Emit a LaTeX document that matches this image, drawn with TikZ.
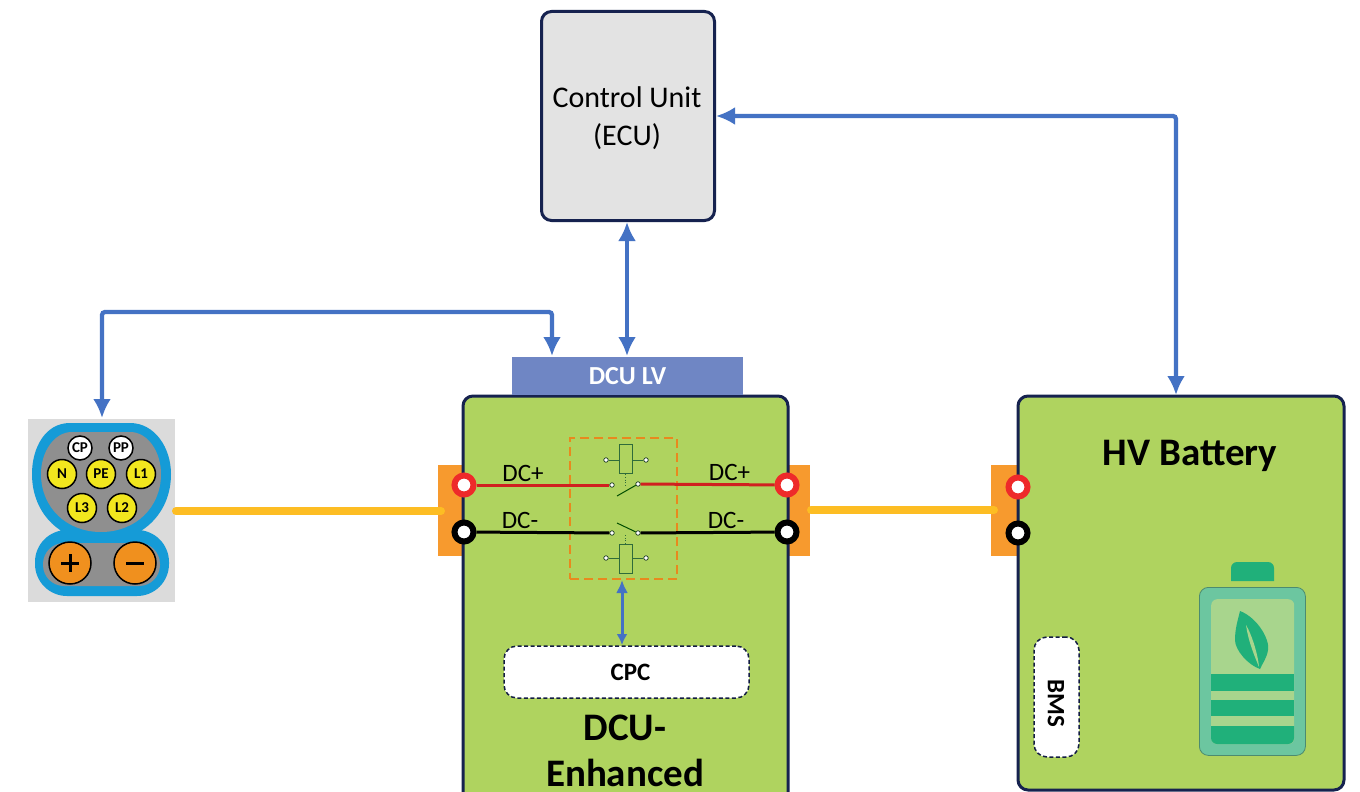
\documentclass[tikz,border=0pt]{standalone}
\usepackage{fontspec}
\setmainfont{Carlito}
\usetikzlibrary{arrows.meta,positioning}
\definecolor{navy}{HTML}{16224F}
\definecolor{boxgreen}{HTML}{AFD35F}
\definecolor{linkblue}{HTML}{4472C4}
\definecolor{lvblue}{HTML}{6F86C4}
\definecolor{termorange}{HTML}{F79A2E}
\definecolor{feedyellow}{HTML}{FDBD23}
\definecolor{dashorange}{HTML}{E8891E}
\definecolor{portblue}{HTML}{159BD7}
\definecolor{portgrey}{HTML}{8F8F8F}
\definecolor{pinyellow}{HTML}{F2E71E}
\definecolor{pinorange}{HTML}{F0901E}
\definecolor{batdark}{HTML}{20B07A}
\definecolor{batmid}{HTML}{6CC6A0}
\definecolor{batlight}{HTML}{A8D58D}
\definecolor{relaygreen}{HTML}{2F6B3A}
\definecolor{livered}{HTML}{D02020}
\definecolor{ringredc}{HTML}{EE2A2A}
\newcommand{\fs}[1]{\fontsize{#1}{#1}\selectfont}
\tikzset{
  x=1pt,y=-1pt,
  mainbox/.style={draw=navy,line width=3pt,rounded corners=10pt,fill=boxgreen,inner sep=0pt,outer sep=0pt,anchor=north west},
  link/.style={draw=linkblue,line width=4.3pt,{Latex[length=19pt,width=18pt]}-{Latex[length=19pt,width=18pt]}},
  feed/.style={draw=feedyellow,line width=8pt,line cap=round},
  termblock/.style={fill=termorange,inner sep=0pt,minimum width=#1,minimum height=91pt,anchor=north west},
  ringred/.style={circle,draw=ringredc,fill=white,line width=6pt,minimum size=19pt,inner sep=0pt},
  ringblack/.style={circle,draw=black,fill=white,line width=6pt,minimum size=19pt,inner sep=0pt},
  pin/.style={circle,draw=black,line width=1.5pt,fill=pinyellow,minimum size=29pt,inner sep=0pt,font=\bfseries\fs{15}},
  pinw/.style={circle,draw=black,line width=1.5pt,fill=white,minimum size=24pt,inner sep=0pt,font=\bfseries\fs{15}},
  pinbig/.style={circle,draw=black,line width=1.5pt,fill=pinorange,minimum size=42pt,inner sep=0pt},
  contact/.style={circle,draw=relaygreen!50!black,fill=white,line width=.7pt,minimum size=4.5pt,inner sep=0pt},
  relay/.style={draw=relaygreen,line width=1pt,fill=boxgreen,minimum width=13pt,minimum height=29pt,inner sep=0pt},
  dashbox/.style={draw=navy!85!black,line width=1.5pt,dash pattern=on 4pt off 2.5pt,fill=white,rounded corners=13pt,inner sep=0pt,outer sep=0pt,anchor=north west},
  dclabel/.style={font=\fs{25},inner sep=0pt},
}
\begin{document}
\begin{tikzpicture}
\useasboundingbox (0,0) rectangle (1360,792);
\fill[white] (0,0) rectangle (1360,792);

% terminal blocks (behind boxes)
\node[termblock=28pt] (tl) at (438,465) {};
\node[termblock=25pt] (tr) at (785,465) {};
\node[termblock=30pt] (th) at (991,465) {};

% main boxes
\node[mainbox,fill=black!11,minimum width=173pt,minimum height=209pt] (ecu) at (541.5,11.5) {};
\node[inner sep=0pt,align=center,font=\fs{30}] (ecutext) at (627,118) {Control Unit\\[8pt](ECU)};
\node[mainbox,minimum width=325pt,minimum height=420pt] (dcu) at (463,396) {};
\node[mainbox,minimum width=326pt,minimum height=394pt] (hv) at (1018,396) {};
\node[fill=lvblue,text=white,font=\bfseries\fs{26},minimum width=231pt,minimum height=38pt,inner sep=0pt,outer sep=0pt,anchor=north west] (lv) at (512,357) {DCU LV};

% connector
\node[fill=black!14,minimum width=147pt,minimum height=183pt,inner sep=0pt,outer sep=0pt,anchor=north west] (port) at (28,419) {};
\fill[portblue,rounded corners=32pt] (35,530) rectangle (169,596);
\fill[portblue] (70,423) -- (130,423) .. controls (155,423) and (171,448) .. (171,474) .. controls (171,515) and (140,542) .. (101,542) .. controls (62,542) and (32,515) .. (32,474) .. controls (32,448) and (45,423) .. (70,423) -- cycle;
\fill[portgrey,rounded corners=21pt] (43,543) rectangle (160,586);
\fill[portblue] (60,530) .. controls (75,540) and (125,540) .. (142,530) -- (135,542) -- (68,542) -- cycle;
\fill[portgrey] (72,432) -- (130,432) .. controls (148,432) and (161,452) .. (161,474) .. controls (161,508) and (135,532) .. (101,532) .. controls (67,532) and (41,508) .. (41,474) .. controls (41,452) and (54,432) .. (72,432) -- cycle;
\node[pinw] (cp) at (80,448) {CP};
\node[pinw] (pp) at (121,448) {PP};
\node[pin] (pn) at (62,474) {N};
\node[pin] (pe) at (101,474) {PE};
\node[pin] (l1) at (141,474) {L1};
\node[pin] (l3) at (82,508) {L3};
\node[pin] (l2) at (122,508) {L2};
\node[pinbig] (plus) at (70,563) {};
\node[pinbig] (minus) at (135,563) {};
\draw[line width=3pt] (plus.center) +(-9,0) -- +(9,0) (plus.center) +(0,-9) -- +(0,9);
\draw[line width=3pt] (minus.center) +(-9,0) -- +(9,0);

% HV feed lines
\coordinate (feedA) at (176,511);
\coordinate (feedB) at (441,511);
\coordinate (feedC) at (811,510);
\coordinate (feedD) at (994,510);
\draw[feed] (feedA) -- (feedB);
\draw[feed] (feedC) -- (feedD);

% terminals
\node[ringred] (a1) at (464,485) {};
\node[ringblack] (a2) at (464,532) {};
\node[ringred] (b1) at (787,485) {};
\node[ringblack] (b2) at (787,532) {};
\node[ringred] (h1) at (1018,487) {};
\node[ringblack] (h2) at (1018,533) {};

% contactor group
\node[draw=dashorange,line width=2pt,dash pattern=on 9pt off 5pt,minimum width=107pt,minimum height=141pt,inner sep=0pt,outer sep=0pt,anchor=north west] (grp) at (570,438) {};
\node[contact] (c1) at (612,485) {};
\node[contact] (c2) at (638,484) {};
\node[contact] (c3) at (612,533) {};
\node[contact] (c4) at (638,533) {};
\draw[livered,line width=3pt] (a1) -- (c1);
\draw[livered,line width=3pt] (c2) -- (b1);
\draw[black,line width=3pt] (a2) -- (c3);
\draw[black,line width=3pt] (c4) -- (b2);
\draw[black!70!green,line width=1pt] (c2) -- (617,496);
\draw[black!70!green,line width=1pt] (c4) -- (617,523);
\node[relay] (r1) at (625.5,459) {};
\node[relay] (r2) at (625.5,559) {};
\node[contact] (k1) at (606,460) {};
\node[contact] (k2) at (646,460) {};
\node[contact] (k3) at (606,558) {};
\node[contact] (k4) at (646,558) {};
\draw[relaygreen,line width=.8pt] (k1) -- (r1.west |- k1);
\draw[relaygreen,line width=.8pt] (r1.east |- k2) -- (k2);
\draw[relaygreen,line width=.8pt] (k3) -- (r2.west |- k3);
\draw[relaygreen,line width=.8pt] (r2.east |- k4) -- (k4);
\draw[relaygreen,line width=.8pt,dotted] (r1.south) -- ++(0,12);
\draw[relaygreen,line width=.8pt,dotted] (r2.north) -- ++(0,-11);

\node[dclabel] (l_a1) at (523,473) {DC+};
\node[dclabel] (l_a2) at (520,520) {DC-};
\node[dclabel] (l_b1) at (729.5,472) {DC+};
\node[dclabel] (l_b2) at (726,520) {DC-};

% CPC and text
\node[dashbox,minimum width=245pt,minimum height=52pt] (cpc) at (504,646) {};
\node[inner sep=0pt,font=\bfseries\fs{25}] (cpctext) at (630.5,672) {CPC};
\draw[draw=linkblue,line width=3pt,{Latex[length=13pt,width=12pt]}-{Latex[length=11pt,width=11pt]}] (622,580) -- (622,645);
\node[inner sep=0pt,align=center,font=\bfseries\fs{39}] (dcutext) at (625,751) {DCU-\\[7pt]Enhanced};

% HV battery content
\node[inner sep=0pt,font=\bfseries\fs{39}] (hvtext) at (1190,456) {HV Battery};
\node[dashbox,minimum width=45pt,minimum height=120pt] (bms) at (1034,637) {};
\node[inner sep=0pt,rotate=-90,font=\bfseries\fs{25}] (bmstext) at (1056,703) {BMS};

\fill[batdark] (1231,581) -- (1231,568) arc (180:270:6) -- (1268,562) arc (-90:0:6) -- (1274,581) -- cycle;
\node[draw=black!30!batmid,fill=batmid,line width=.8pt,rounded corners=9pt,minimum width=106pt,minimum height=168pt,inner sep=0pt,anchor=north west] (bat) at (1199,587) {};
\node[fill=batlight,rounded corners=6pt,minimum width=83pt,minimum height=145pt,inner sep=0pt,anchor=north west] (batin) at (1211,599) {};
\fill[batdark] (1211,674) rectangle (1294,691);
\fill[batdark] (1211,700) rectangle (1294,716);
\fill[batdark] (1211,726) -- (1294,726) -- (1294,738) arc (0:90:6) -- (1217,744) arc (90:180:6) -- cycle;
\fill[batdark] (1240,611) .. controls (1258,618) and (1270,640) .. (1268,650) .. controls (1267,658) and (1262,664) .. (1260,669) .. controls (1248,665) and (1235,650) .. (1235,640) .. controls (1235,628) and (1238,620) .. (1240,611) -- cycle;
\fill[batlight] (1246,625) .. controls (1252,635) and (1258,655) .. (1259,667) .. controls (1254,655) and (1248,640) .. (1246,625) -- cycle;

% signal links
\coordinate (up1) at (552,312);
\coordinate (up2) at (102,312);
\draw[link,rounded corners=3pt] (552,356) -- (up1) -- (up2) -- (102,418);
\draw[link] (627,222) -- (627,356);
\coordinate (rt) at (1176,116);
\draw[link,rounded corners=3pt] (716,116) -- (rt) -- (1176,395);
\end{tikzpicture}
\end{document}
